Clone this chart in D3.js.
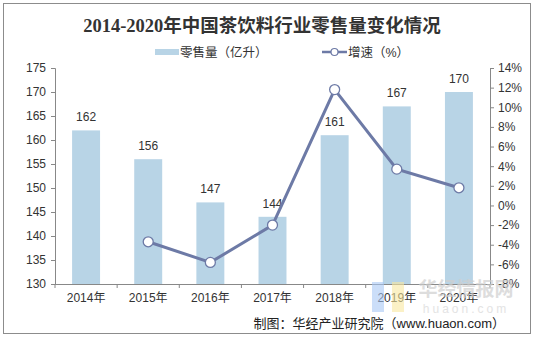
<!DOCTYPE html>
<html>
<head>
<meta charset="utf-8">
<script src="https://cdn.jsdelivr.net/npm/d3@7"></script>
<style>
body { margin: 0; background: #fff; }
text { font-family: "Liberation Sans", Arial, "Noto Sans CJK SC", sans-serif; }
</style>
</head>
<body>
<svg id="chart" width="536" height="337"></svg>
<script>
// 数据
var years = ["2014年", "2015年", "2016年", "2017年", "2018年", "2019年", "2020年"];
var sales = [162, 156, 147, 144, 161, 167, 170];
var growth = [null, -3.7, -5.8, -2.0, 11.8, 3.7, 1.8];
var leftTicks = [130, 135, 140, 145, 150, 155, 160, 165, 170, 175];
var rightTicks = [-8, -6, -4, -2, 0, 2, 4, 6, 8, 10, 12, 14];

var svg = d3.select("#chart");
var barColor = "#b8d4e6", lineColor = "#6d7aa6", axisColor = "#888";

svg.append("rect")
  .attr("x", 3.5).attr("y", 3.5).attr("width", 527).attr("height", 330)
  .attr("fill", "#fff").attr("stroke", "#8c8c8c").attr("stroke-width", 1);

var plotL = 55, plotR = 490, plotT = 68, plotB = 284;

var x = d3.scaleBand().domain(years).range([plotL, plotR]).paddingInner(0.55).paddingOuter(0.275);
var xb = d3.scaleBand().domain(years).range([plotL, plotR]);
var yL = d3.scaleLinear().domain([130, 175]).range([plotB, plotT]);
var yR = d3.scaleLinear().domain([-8, 14]).range([plotB, plotT]);

// 标题
svg.append("text")
  .attr("x", 262).attr("y", 32)
  .attr("text-anchor", "middle")
  .style("font-family", "'Liberation Serif', 'DejaVu Serif', 'Noto Sans CJK SC', serif")
  .style("font-weight", "bold").style("font-size", "18.5px").attr("fill", "#333")
  .text("2014-2020年中国茶饮料行业零售量变化情况");

// 图例
var lg = svg.append("g");
lg.append("rect").attr("x", 155).attr("y", 49).attr("width", 24).attr("height", 6).attr("fill", barColor);
lg.append("text").attr("x", 180).attr("y", 57).style("font-size", "12.5px").attr("fill", "#333").text("零售量（亿升）");
lg.append("line").attr("x1", 322).attr("x2", 347).attr("y1", 52).attr("y2", 52)
  .attr("stroke", lineColor).attr("stroke-width", 2.5);
lg.append("circle").attr("cx", 334.5).attr("cy", 52).attr("r", 3.5)
  .attr("fill", "#fff").attr("stroke", lineColor).attr("stroke-width", 1.2);
lg.append("text").attr("x", 348).attr("y", 57).style("font-size", "12.5px").attr("fill", "#333").text("增速（%）");

// 柱子
svg.append("g").selectAll("rect")
  .data(sales)
  .enter().append("rect")
  .attr("x", function(d, i) { return x(years[i]); })
  .attr("width", x.bandwidth())
  .attr("y", function(d) { return yL(d); })
  .attr("height", function(d) { return plotB - yL(d); })
  .attr("fill", barColor);

svg.append("g").selectAll("text")
  .data(sales)
  .enter().append("text")
  .attr("x", function(d, i) { return x(years[i]) + x.bandwidth() / 2; })
  .attr("y", function(d) { return yL(d) - 9; })
  .attr("text-anchor", "middle")
  .style("font-size", "12px").attr("fill", "#333")
  .text(function(d) { return d; });

// 坐标轴
var axL = svg.append("g").attr("transform", "translate(" + plotL + ",0)")
  .call(d3.axisLeft(yL).tickValues(leftTicks).tickSize(4).tickPadding(5));
var axR = svg.append("g").attr("transform", "translate(" + plotR + ",0)")
  .call(d3.axisRight(yR).tickValues(rightTicks).tickSize(4).tickPadding(4)
    .tickFormat(function(d) { return d + "%"; }));
var axB = svg.append("g").attr("transform", "translate(0," + plotB + ")")
  .call(d3.axisBottom(xb).tickSize(0).tickPadding(9));
axB.selectAll(".tick").append("line")
  .attr("x1", xb.bandwidth() / 2).attr("x2", xb.bandwidth() / 2)
  .attr("y1", 0).attr("y2", 4).attr("stroke", axisColor);
axB.select(".tick").append("line")
  .attr("x1", -xb.bandwidth() / 2).attr("x2", -xb.bandwidth() / 2)
  .attr("y1", 0).attr("y2", 4).attr("stroke", axisColor);

[axL, axR, axB].forEach(function(a) {
  a.select(".domain").attr("stroke", axisColor);
  a.selectAll(".tick line").attr("stroke", axisColor);
  a.selectAll("text").style("font-family", "'Liberation Sans', Arial, 'Noto Sans CJK SC', sans-serif")
    .style("font-size", "12px").attr("fill", "#333");
});
axB.select(".domain").attr("d", "M" + plotL + ",0.5H" + plotR);

// 增速折线
var pts = growth.map(function(g, i) { return { y: years[i], g: g }; }).filter(function(d) { return d.g !== null; });
var line = d3.line()
  .x(function(d) { return xb(d.y) + xb.bandwidth() / 2; })
  .y(function(d) { return yR(d.g); });
svg.append("path").datum(pts).attr("d", line)
  .attr("fill", "none").attr("stroke", lineColor).attr("stroke-width", 3);
svg.append("g").selectAll("circle")
  .data(pts).enter().append("circle")
  .attr("cx", function(d) { return xb(d.y) + xb.bandwidth() / 2; })
  .attr("cy", function(d) { return yR(d.g); })
  .attr("r", 5).attr("fill", "#fff").attr("stroke", lineColor).attr("stroke-width", 1.3);

// 水印
svg.append("rect").attr("x", 372).attr("y", 282).attr("width", 12).attr("height", 30).attr("fill", "#a9c8f5").attr("opacity", 0.6);
svg.append("rect").attr("x", 392).attr("y", 282).attr("width", 12).attr("height", 30).attr("fill", "#f8e7a0").attr("opacity", 0.6);
svg.append("text").attr("x", 466).attr("y", 296).attr("text-anchor", "middle")
  .style("font-size", "19px").style("font-weight", "bold").attr("fill", "#cfcfcf").attr("opacity", 0.7)
  .text("华经情报网");
svg.append("text").attr("x", 466).attr("y", 313).attr("text-anchor", "middle")
  .style("font-size", "12px").style("letter-spacing", "3px").attr("fill", "#ddd").attr("opacity", 0.8)
  .text("huaon.com");

// 来源
svg.append("text").attr("x", 505).attr("y", 328).attr("text-anchor", "end")
  .style("font-size", "13px").attr("fill", "#222")
  .text("制图：华经产业研究院（www.huaon.com）");
</script>
</body>
</html>
